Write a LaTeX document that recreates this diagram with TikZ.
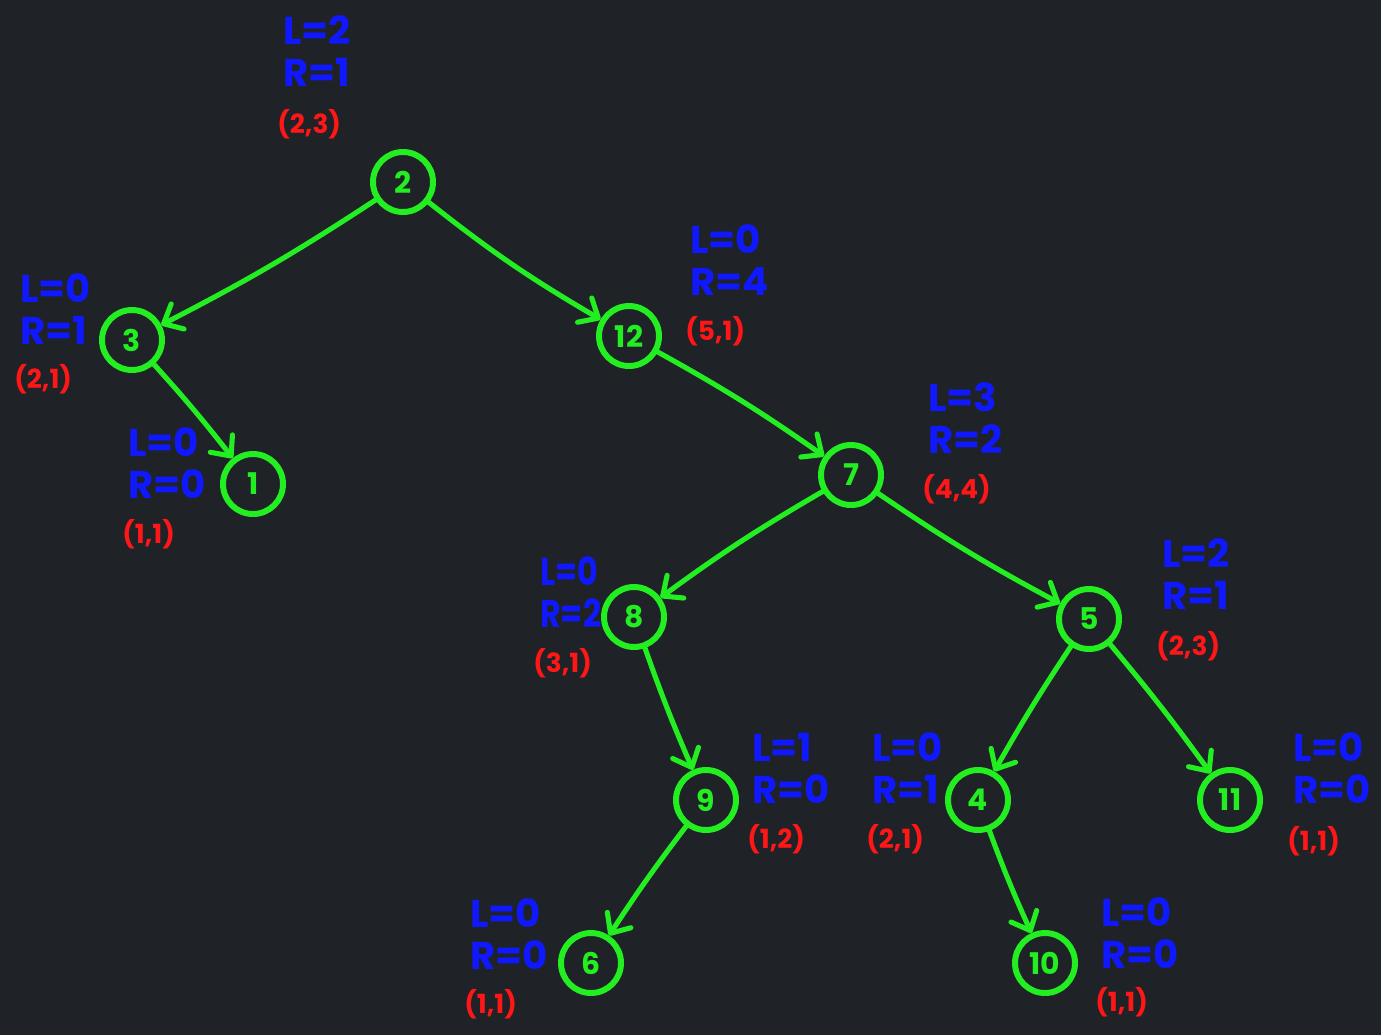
\documentclass[tikz,border=0pt]{standalone}
\usepackage{fontspec}
\setmainfont{Poppins}
\usetikzlibrary{arrows.meta}
\definecolor{bgc}{RGB}{31,35,39}
\definecolor{grn}{RGB}{34,238,34}
\definecolor{blu}{RGB}{16,24,255}
\definecolor{rd}{RGB}{255,22,22}
\tikzset{
  tnode/.style={circle,draw=grn,line width=3.4pt,minimum size=1.2cm,inner sep=0pt,
    text=grn,font=\fontsize{17}{17}\selectfont\bfseries},
  edge/.style={draw=grn,line width=2.9pt,line cap=round,
    -{Straight Barb[length=9pt,width=16pt,line width=2.9pt,round]}},
  lr/.style={anchor=west,text=blu,align=left,inner sep=0pt,
    font=\fontsize{22}{24}\selectfont\bfseries},
  pr/.style={anchor=west,text=rd,inner sep=0pt,font=\fontsize{15}{15}\selectfont\bfseries},
}
\begin{document}
\begin{tikzpicture}[x=0.02cm,y=-0.02cm]
\fill[bgc] (0,0) rectangle (1381,1035);
% tree nodes
\node[tnode] (n2) at (403,182) {2};
\node[tnode] (n3) at (132,340) {3};
\node[tnode] (n1) at (253,484) {1};
\node[tnode] (n12) at (629,336) {12};
\node[tnode] (n7) at (851,475) {7};
\node[tnode] (n8) at (634,617) {8};
\node[tnode] (n5) at (1089,619) {5};
\node[tnode] (n9) at (706,800) {9};
\node[tnode] (n4) at (978,800) {4};
\node[tnode] (n11) at (1230,800) {11};
\node[tnode] (n6) at (591,963) {6};
\node[tnode] (n10) at (1045,963) {10};
% edges
\draw[edge] (n2) to[bend left=3] (n3);
\draw[edge] (n2) to[bend right=4] (n12);
\draw[edge] (n3) to[bend left=2] (n1);
\draw[edge] (n12) to[bend left=3] (n7);
\draw[edge] (n7) to[bend right=3] (n8);
\draw[edge] (n7) to[bend right=3] (n5);
\draw[edge] (n8) to[bend right=2] (n9);
\draw[edge] (n5) to[bend right=2] (n4);
\draw[edge] (n5) to[bend left=2] (n11);
\draw[edge] (n9) to[bend right=2] (n6);
\draw[edge] (n4) to[bend right=2] (n10);
% labels
\node[lr] (l2) at (283,51) {L=2\\R=1};
\node[pr] (p2) at (277,124) {(2,3)};
\node[lr] (l3) at (20,309) {L=0\\R=1};
\node[pr] (p3) at (14,379) {(2,1)};
\node[lr] (l1) at (128,463) {L=0\\R=0};
\node[pr] (p1) at (122,534) {(1,1)};
\node[lr] (l12) at (690,260) {L=0\\R=4};
\node[pr] (p12) at (685,331) {(5,1)};
\node[lr] (l7) at (928,418) {L=3\\R=2};
\node[pr] (p7) at (922,489) {(4,4)};
\node[lr,xscale=0.82,transform shape] (l8) at (540,592) {L=0\\R=2};
\node[pr] (p8) at (533,663) {(3,1)};
\node[lr] (l5) at (1162,574) {L=2\\R=1};
\node[pr] (p5) at (1156,646) {(2,3)};
\node[lr] (l9) at (752,768) {L=1\\R=0};
\node[pr] (p9) at (747,839) {(1,2)};
\node[lr] (l4) at (872,768) {L=0\\R=1};
\node[pr] (p4) at (866,839) {(2,1)};
\node[lr] (l11) at (1293,768) {L=0\\R=0};
\node[pr] (p11) at (1287,841) {(1,1)};
\node[lr] (l6) at (470,934) {L=0\\R=0};
\node[pr] (p6) at (464,1004) {(1,1)};
\node[lr] (l10) at (1101,933) {L=0\\R=0};
\node[pr] (p10) at (1095,1002) {(1,1)};
\end{tikzpicture}
\end{document}
